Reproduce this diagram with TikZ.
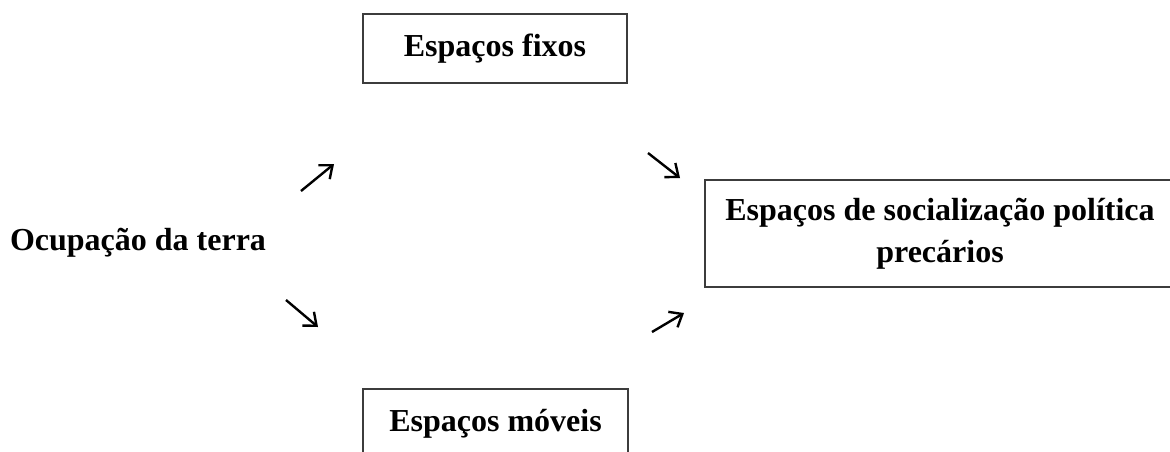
\documentclass[tikz,border=0pt]{standalone}
\usepackage{fontspec}
\setmainfont{Liberation Serif}
\usetikzlibrary{arrows.meta}

\definecolor{c1}{RGB}{60,60,60}

\tikzset{
  boxnode/.style={draw=c1, line width=0.7pt, align=center, inner sep=0pt},
  lbl/.style={font=\fontsize{16}{21}\selectfont\bfseries, align=center},
  seta/.style={line width=1.2pt, arrows={-{Straight Barb[length=5.5pt,width=9pt]}}}
}

\begin{document}
\begin{tikzpicture}[x=0.5pt,y=-0.5pt]
      \useasboundingbox (0,0) rectangle (1170,451);
      \clip (0,0) rectangle (1170,451);

      \node[boxnode,lbl,minimum width=132pt,minimum height=34.5pt] (fixos) at (495,48.5) {Espaços fixos};
      \node[boxnode,lbl,minimum width=132.5pt,minimum height=34.5pt] (moveis) at (495.5,423.5) {Espaços móveis};
      \node[boxnode,lbl,minimum width=235pt,minimum height=53.5pt] (precarios) at (940,233.5) {Espaços de socialização política\\precários};
      \node[lbl] (ocupacao) at (138,243) {Ocupação da terra};

      \coordinate (a1) at (301,191);
      \coordinate (b1) at (334,164);
      \coordinate (a2) at (286,300);
      \coordinate (b2) at (318,327);
      \coordinate (a3) at (648,153);
      \coordinate (b3) at (680,178);
      \coordinate (a4) at (652,332);
      \coordinate (b4) at (684,313);

      \draw[seta] (a1) to (b1);
      \draw[seta] (a2) to (b2);
      \draw[seta] (a3) to (b3);
      \draw[seta] (a4) to (b4);
\end{tikzpicture}
\end{document}
